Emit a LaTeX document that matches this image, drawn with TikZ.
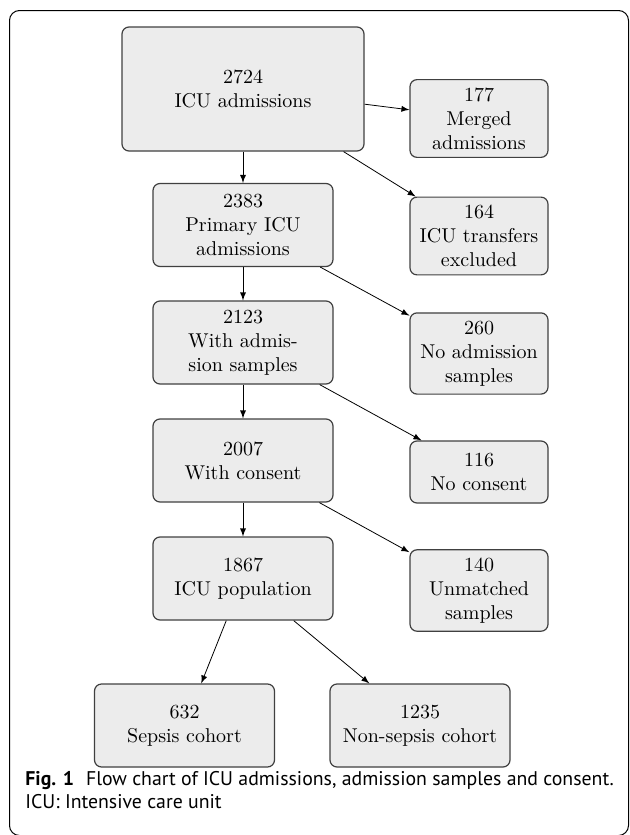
\documentclass[tikz,border=0pt]{standalone}
\usepackage{fontspec}
\newfontfamily\capfont{PT Sans}
\usetikzlibrary{arrows,positioning}
\tikzset{>=latex}
\tikzset{
  stage/.style={draw=black!75, line width=0.6pt, fill=gray!15,
    rounded corners=3.5pt, align=center, inner sep=4pt,
    minimum width=90pt, minimum height=41.5pt},
  side/.style={stage, minimum width=69pt, minimum height=31pt},
  flow/.style={->, thin},
  captext/.style={anchor=base west, inner sep=0pt,
    font=\capfont\fontsize{9.9}{11.5}\selectfont},
}

\begin{document}
\begin{tikzpicture}[x=0.5pt, y=-0.5pt]
  \useasboundingbox (0,0) rectangle (629,835);
  % frame
  \draw[rounded corners=5pt, line width=0.5pt] (9.5,10.5) rectangle (628.5,835.5);

  % main column
  \node[stage, minimum width=121pt, minimum height=62pt] (icu) at (243,89) {2724\\ICU admissions};
  \node[stage] (primary) at (243,225) {2383\\Primary ICU\\admissions};
  \node[stage] (samples) at (243,342.5) {2123\\With admis-\\sion samples};
  \node[stage] (consent) at (243,460.5) {2007\\With consent};
  \node[stage] (population) at (243,578.5) {1867\\ICU population};
  \node[stage] (sepsis) at (184.5,725.5) {632\\Sepsis cohort};
  \node[stage] (nonsepsis) at (420,725.5) {1235\\Non-sepsis cohort};

  % excluded
  \node[side] (merged) at (479,118.5) {177\\Merged\\admissions};
  \node[side] (transfers) at (479,236) {164\\ICU transfers\\excluded};
  \node[side] (nosamples) at (479,353.5) {260\\No admission\\samples};
  \node[side] (noconsent) at (479,472) {116\\No consent};
  \node[side] (unmatched) at (479,590.5) {140\\Unmatched\\samples};

  \foreach \a/\b in {icu/primary, primary/samples, samples/consent,
      consent/population, population/sepsis, population/nonsepsis,
      icu/merged, icu/transfers, primary/nosamples, samples/noconsent,
      consent/unmatched}
    \draw[flow] (\a) -- (\b);

  \node[captext] (caption) at (25,785) {\textbf{Fig. 1}\hspace{0.6em}Flow chart of ICU admissions, admission samples and consent.};
  \node[captext] (capnote) at (25,808) {ICU: Intensive care unit};
\end{tikzpicture}
\end{document}
